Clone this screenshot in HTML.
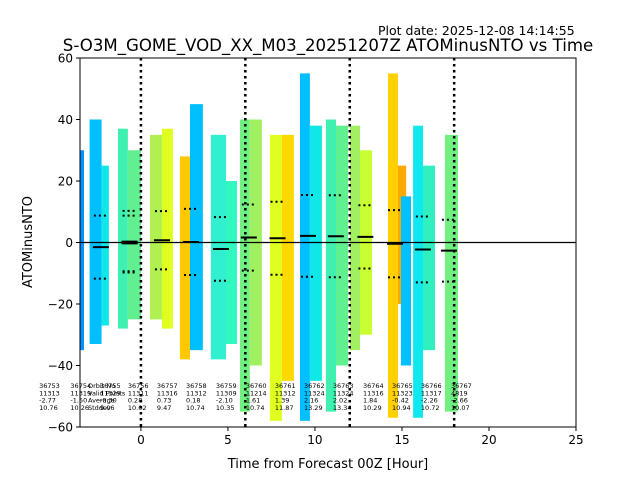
<!DOCTYPE html>
<html><head><meta charset="utf-8"><style>
body{margin:0;background:#fff;}
svg{display:block;font-family:"DejaVu Sans","Liberation Sans",sans-serif;}
</style></head><body>
<svg id="chart" width="640" height="480">
<text x="378" y="35" font-size="12.5">Plot date: 2025-12-08 14:14:55</text>
<text x="328" y="51" font-size="16.6" text-anchor="middle">S-O3M_GOME_VOD_XX_M03_20251207Z ATOMinusNTO vs Time</text>
<g id="strips"></g><g id="stats"></g><g id="labels"></g><g id="axes"></g>
</svg>
<script>
// strips: start hour, end hour, top value, bottom value, color
const stripX0=[-3.5,-2.95,-2.26,-1.32,-0.75,0.52,1.21,2.24,2.82,4.02,4.89,5.69,6.26,7.41,8.1,9.14,9.71,10.63,11.21,12.01,12.59,14.2,14.77,14.94,15.64,16.21,17.47];
const stripX1=[-3.27,-2.26,-1.84,-0.75,0.0,1.21,1.84,2.82,3.56,4.89,5.52,6.26,6.95,8.1,8.79,9.71,10.4,11.21,11.9,12.59,13.28,14.77,15.24,15.52,16.21,16.9,18.22];
const stripTop=[30,40,25,37,30,35,37,28,45,35,20,40,40,35,35,55,38,40,38,38,30,55,25,15,38,25,35];
const stripBot=[-35,-33,-27,-28,-25,-25,-28,-38,-35,-38,-33,-55,-40,-58,-45,-58,-45,-55,-40,-35,-30,-57,-20,-40,-57,-35,-55];
const stripColor=["#0090ff","#00bfff","#10e8e8","#40f0b0","#60f090","#b0f050","#e0ff20","#ffc800","#00bfff","#30f0d0","#30f8c0","#70f080","#a0f060","#e0ff20","#ffd800","#00c0ff","#10e8e8","#40f0b0","#60f090","#a0f060","#c8ff30","#ffd000","#ffa800","#00c0ff","#10e8f0","#30f0c0","#70f080"];
// orbit stats
const orbitNo=["36753","36754","36755","36756","36757","36758","36759","36760","36761","36762","36763","36764","36765","36766","36767"];
const orbitPts=["11313","11319","11329","11311","11316","11312","11309","11214","11312","11324","11324","11316","11323","11317","4819"];
const orbitMean=[-2.77,-1.50,-0.30,0.28,0.73,0.18,-2.10,1.61,1.39,2.16,2.02,1.84,-0.42,-2.26,-2.66];
const orbitStd=[10.76,10.26,9.06,10.02,9.47,10.74,10.35,10.74,11.87,13.29,13.34,10.29,10.94,10.72,10.07];
const orbitCenter=[-3.6,-2.3,-0.65,-0.65,1.21,2.88,4.6,6.2,7.85,9.6,11.2,12.9,14.6,16.2,17.7];
const labelHour=[-5.85,-4.05,-2.35,-0.75,0.92,2.59,4.31,6.03,7.7,9.37,11.03,12.76,14.43,16.09,17.82];
const xTicks=[0,5,10,15,20,25];
const yTicks=[-60,-40,-20,0,20,40,60];
const vLines=[0,6,12,18];

const L=80,R=576,T=58,B=427;
const xs=h=>L+(h+3.5)*(R-L)/28.5;
const ys=v=>T+(60-v)*(B-T)/120;
const NS='http://www.w3.org/2000/svg';
function mk(tag,parent,attrs){const e=document.createElementNS(NS,tag);for(const k in attrs)e.setAttribute(k,attrs[k]);parent.appendChild(e);return e;}
const gS=document.getElementById('strips'),gT=document.getElementById('stats'),gL=document.getElementById('labels'),gA=document.getElementById('axes');
for(let i=0;i<stripX0.length;i++){
  const x0=Math.max(xs(stripX0[i]),L);
  const r=mk('rect',gS,{x:x0,y:ys(stripTop[i]),width:xs(stripX1[i])-x0,height:ys(stripBot[i])-ys(stripTop[i]),fill:stripColor[i]});
  
  
}
for(const h of vLines){
  const l=mk('line',gA,{x1:xs(h),x2:xs(h),y1:T,y2:B,stroke:'#000','stroke-width':2.5,'stroke-dasharray':'2.5,3.5'});
  
  
}
const z=mk('line',gA,{x1:L,x2:R,y1:ys(0),y2:ys(0),stroke:'#000','stroke-width':1.2});


for(let i=0;i<orbitNo.length;i++){
  const c=xs(orbitCenter[i]);
  if(c-8>=L){
    const m=mk('line',gT,{x1:c-8,x2:c+8,y1:ys(orbitMean[i]),y2:ys(orbitMean[i]),stroke:'#000','stroke-width':2});
    
    
    for(const s of [1,-1]){
      const d=mk('line',gT,{x1:c-7,x2:c+7,y1:ys(orbitMean[i]+s*orbitStd[i]),y2:ys(orbitMean[i]+s*orbitStd[i]),stroke:'#000','stroke-width':2,'stroke-dasharray':'2,3'});
      
      
    }
  }
  const rows=[orbitNo[i],orbitPts[i],orbitMean[i].toFixed(2),orbitStd[i].toFixed(2)];
  rows.forEach((s,j)=>{
    const t=mk('text',gL,{x:xs(labelHour[i]),y:388+j*7.3,'font-size':6.5,fill:'#000'});
    t.textContent=s;
    
    
  });
}
['Orbit No','Valid Points','Average','Stddev'].forEach((s,j)=>{
  const t=mk('text',gL,{x:88,y:388+j*7.3,'font-size':6.5,fill:'#000'});
  t.textContent=s;
  
  
});
const f=mk('rect',gA,{x:L,y:T,width:R-L,height:B-T,fill:'none',stroke:'#000','stroke-width':1});


for(const v of xTicks){
  mk('line',gA,{x1:xs(v),x2:xs(v),y1:B,y2:B+4,stroke:'#000'});
  const t=mk('text',gA,{x:xs(v),y:B+17,'font-size':12,'text-anchor':'middle'});
  t.textContent=v;
  
  
}
for(const v of yTicks){
  mk('line',gA,{x1:L-4,x2:L,y1:ys(v),y2:ys(v),stroke:'#000'});
  const t=mk('text',gA,{x:L-7,y:ys(v)+4.5,'font-size':12,'text-anchor':'end'});
  t.textContent=v===0?'0':(v<0?'\u2212'+(-v):v);
  
  
}
const xl=mk('text',gA,{x:328,y:468,'font-size':13,'text-anchor':'middle'});
xl.textContent='Time from Forecast 00Z [Hour]';


const yl=mk('text',gA,{x:32,y:242,'font-size':13,'text-anchor':'middle',transform:'rotate(-90 32 242)'});
yl.textContent='ATOMinusNTO';


</script>
</body></html>
